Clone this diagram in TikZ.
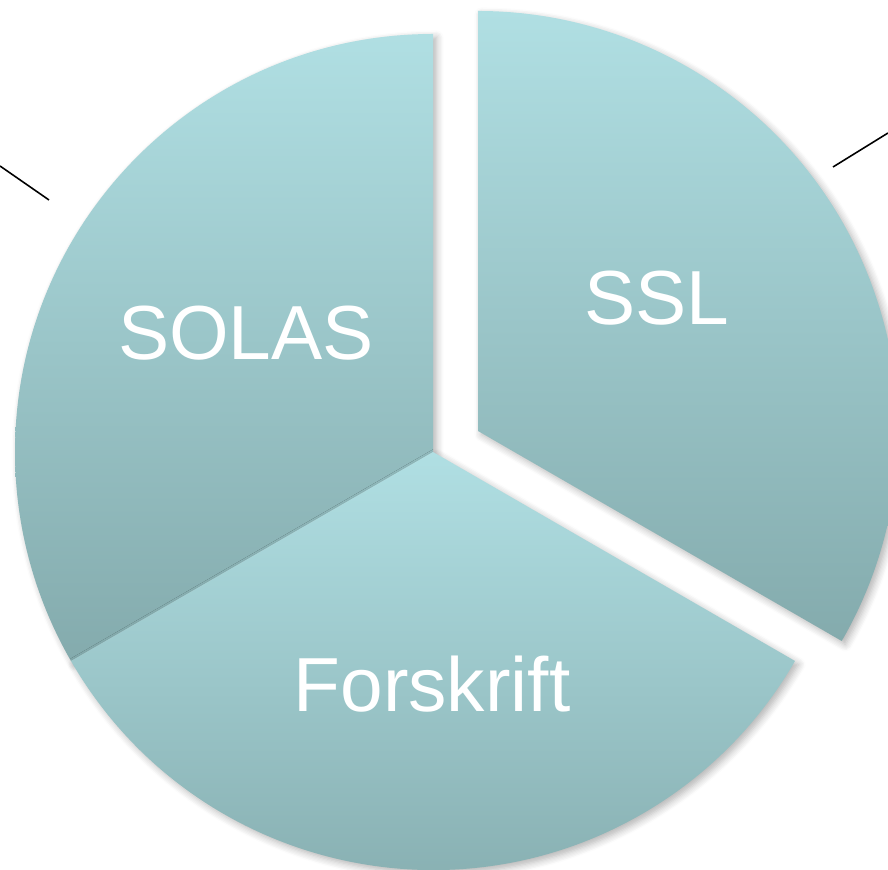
\documentclass[tikz,border=0pt]{standalone}
\usepackage{fontspec}
\setmainfont{Liberation Sans}
\usepackage{xcolor}
\usetikzlibrary{shadows.blur}

\definecolor{pieTop}{RGB}{176,223,227}
\definecolor{pieBot}{RGB}{132,171,173}

\begin{document}
\begin{tikzpicture}[
    x=0.01cm, y=0.01cm,
    sector/.style={top color=pieTop, bottom color=pieBot,
        blur shadow={shadow xshift=1pt, shadow yshift=-1pt, shadow blur radius=2pt, shadow blur steps=6, shadow opacity=30}},
    label/.style={anchor=base, text=white, font=\fontsize{21.8}{26}\selectfont, inner sep=0pt},
    lead/.style={draw=black, line width=0.45pt}
]
    \useasboundingbox (0,0) rectangle (888,870);
    \clip (0,0) rectangle (888,870);

    % Sectors
    \shade[sector] (433,418) -- ++(90:418) arc (90:210:418) -- cycle;
    \shade[sector] (433,418) -- ++(210:418) arc (210:330:418) -- cycle;
    \shade[sector] (478,439) -- ++(-30:420) arc (-30:90:420) -- cycle;

    % Labels
    \node[label] (solas) at (246,510) {SOLAS};
    \node[label] (ssl) at (657,545) {SSL};
    \node[label] (forskrift) at (432,158) {Forskrift};

    % Leader lines
    \coordinate (tlA) at (0,704);
    \coordinate (tlB) at (49,670);
    \coordinate (trA) at (833,703);
    \coordinate (trB) at (888,737);
    \draw[lead] (tlA) -- (tlB);
    \draw[lead] (trA) -- (trB);
\end{tikzpicture}
\end{document}
